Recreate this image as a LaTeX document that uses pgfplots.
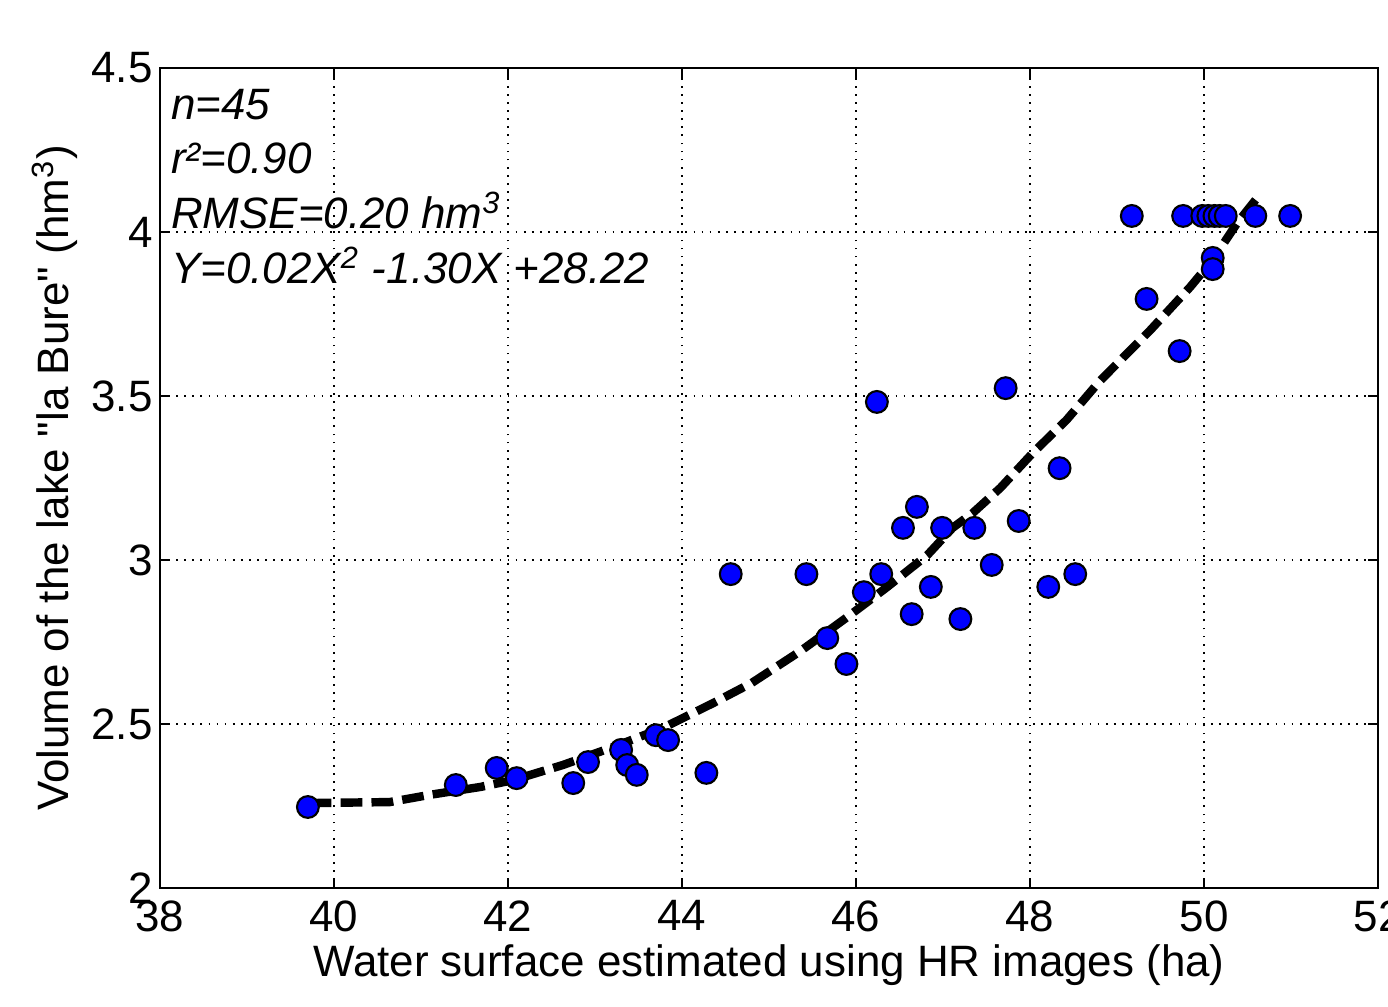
\documentclass[border=0pt]{standalone}
\usepackage{fontspec}
\setmainfont{Liberation Sans}[Ligatures=TeXOff]
\usepackage{pgfplots}
\pgfplotsset{compat=1.18}
\definecolor{mblue}{RGB}{0,0,255}

\begin{document}
\begin{tikzpicture}
\begin{axis}[
    at={(0,0)}, anchor=south west,
    scale only axis,
    width=12.18cm, height=8.2cm,
    xmin=38, xmax=52, ymin=2, ymax=4.5,
    xtick={38,40,...,52},
    ytick={2,2.5,3,3.5,4,4.5},
    font=\fontsize{12.5}{15}\selectfont,
    /pgf/number format/assume math mode=true,
    /pgf/number format/fixed,
    tick align=inside,
    major tick length=0.1cm,
    axis line style={line width=0.6pt},
    tick style={line width=0.6pt, black},
    grid=major,
    grid style={line width=0.5pt, black, dash pattern=on 0.5pt off 1.8pt},
    yticklabel style={xshift=0.05cm},
    xlabel={Water surface estimated using HR images (ha)},
    ylabel={Volume of the lake "la Bure" (hm\textsuperscript{3})},
    xlabel style={at={(axis description cs:0.5,-0.094)}, anchor=center},
    ylabel style={at={(axis description cs:-0.0862,0.5)}, anchor=center},
]

% fitted curve
\addplot[black, line width=2.4pt, dash pattern=on 6.2pt off 2.6pt] coordinates {
(39.72,2.259) (40.64,2.262) (41.10,2.284) (41.68,2.308) (42.06,2.329)
(42.63,2.375) (43.21,2.430) (43.78,2.488) (44.36,2.564) (44.80,2.625)
(45.36,2.722) (45.90,2.826) (46.36,2.918) (46.82,3.015) (47.11,3.098)
(47.34,3.143) (47.66,3.220) (48.03,3.326) (48.42,3.427) (48.80,3.545)
(49.38,3.700) (49.84,3.832) (50.10,3.915) (50.38,4.027) (50.65,4.117)
};

% observations
\addplot[only marks, mark=*, mark size=3.1pt,
    mark options={fill=mblue, draw=black, line width=0.6pt}] coordinates {
(39.70,2.247) (41.40,2.314) (41.87,2.366) (42.10,2.335) (42.75,2.320)
(42.92,2.384) (43.30,2.421) (43.37,2.375) (43.48,2.345) (43.70,2.466)
(43.84,2.451) (44.28,2.351) (44.56,2.957) (45.43,2.957) (45.67,2.762)
(45.89,2.683) (46.09,2.902) (46.24,3.482) (46.29,2.957) (46.54,3.098)
(46.64,2.835) (46.70,3.162) (46.86,2.918) (46.99,3.098) (47.20,2.820)
(47.36,3.098) (47.56,2.985) (47.72,3.524) (47.87,3.119) (48.21,2.918)
(48.34,3.280) (48.52,2.957) (49.17,4.049) (49.34,3.796) (49.72,3.637)
(49.76,4.049) (49.98,4.049) (50.05,4.049) (50.12,4.049) (50.10,3.921)
(50.10,3.887) (50.18,4.049) (50.25,4.049) (50.59,4.049) (50.99,4.049)
};

\node[anchor=base west, inner sep=0pt] at (axis cs:38.12,4.344) {\itshape n=45};
\node[anchor=base west, inner sep=0pt] at (axis cs:38.12,4.177) {\itshape r²=0.90};
\node[anchor=base west, inner sep=0pt] at (axis cs:38.12,4.010) {\itshape RMSE=0.20 hm\textsuperscript{3}};
\node[anchor=base west, inner sep=0pt] at (axis cs:38.12,3.842) {\itshape Y=0.02X\textsuperscript{2} -1.30X +28.22};
\end{axis}
\pgfresetboundingbox
\path[use as bounding box] (-1.6cm,-1.18cm) rectangle (12.28cm,8.88cm);
\end{tikzpicture}
\end{document}
